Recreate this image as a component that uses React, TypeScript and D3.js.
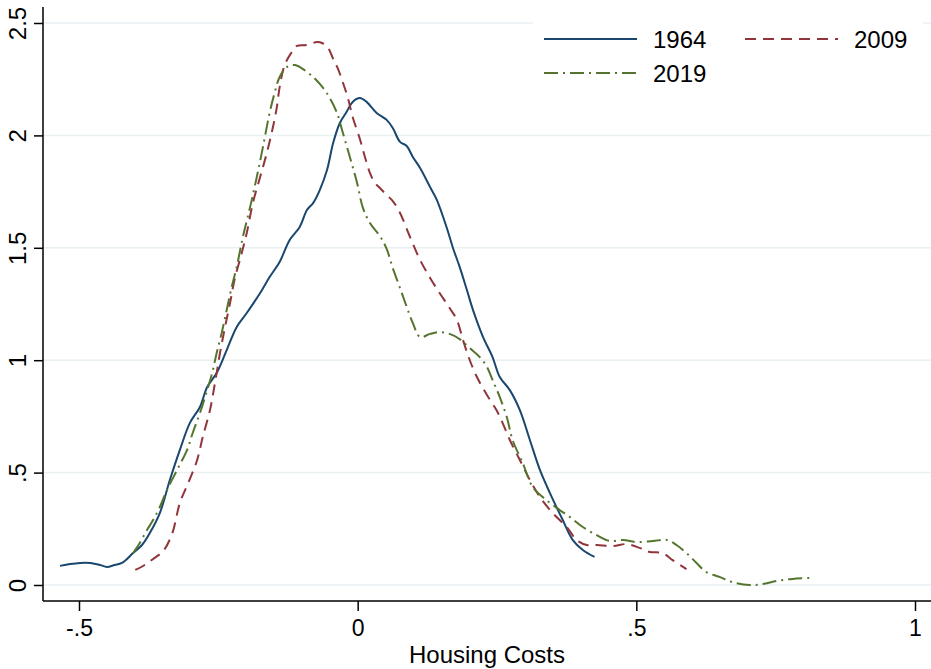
import React from "react";
import * as d3 from "d3";

// kernel density of housing costs
const x1964 = [-0.534, -0.516, -0.498, -0.48, -0.462, -0.45, -0.436, -0.423, -0.403, -0.387, -0.373, -0.355, -0.337, -0.319, -0.301, -0.283, -0.27, -0.253, -0.235, -0.217, -0.199, -0.175, -0.158, -0.14, -0.122, -0.104, -0.091, -0.08, -0.068, -0.055, -0.044, -0.032, -0.02, -0.009, 0.004, 0.016, 0.034, 0.052, 0.063, 0.076, 0.088, 0.099, 0.112, 0.13, 0.142, 0.16, 0.171, 0.183, 0.196, 0.207, 0.225, 0.242, 0.255, 0.273, 0.291, 0.309, 0.327, 0.345, 0.368, 0.386, 0.404, 0.425];
const y1964 = [0.085, 0.093, 0.098, 0.098, 0.089, 0.08, 0.089, 0.098, 0.142, 0.178, 0.231, 0.32, 0.467, 0.601, 0.721, 0.792, 0.881, 0.943, 1.045, 1.148, 1.21, 1.299, 1.37, 1.437, 1.535, 1.593, 1.668, 1.699, 1.757, 1.846, 1.966, 2.055, 2.104, 2.149, 2.166, 2.149, 2.1, 2.069, 2.033, 1.971, 1.953, 1.904, 1.855, 1.77, 1.713, 1.588, 1.499, 1.415, 1.312, 1.223, 1.103, 1.014, 0.925, 0.867, 0.778, 0.645, 0.512, 0.409, 0.289, 0.2, 0.156, 0.125];

const x2009 = [-0.399, -0.382, -0.367, -0.349, -0.333, -0.319, -0.304, -0.288, -0.278, -0.265, -0.256, -0.247, -0.238, -0.229, -0.221, -0.208, -0.199, -0.188, -0.175, -0.163, -0.152, -0.145, -0.14, -0.131, -0.118, -0.109, -0.091, -0.073, -0.064, -0.053, -0.044, -0.036, -0.027, -0.018, -0.009, 0.004, 0.013, 0.022, 0.031, 0.04, 0.052, 0.063, 0.076, 0.094, 0.112, 0.13, 0.147, 0.165, 0.178, 0.189, 0.201, 0.214, 0.232, 0.249, 0.26, 0.273, 0.291, 0.309, 0.327, 0.35, 0.375, 0.393, 0.411, 0.429, 0.458, 0.483, 0.506, 0.524, 0.547, 0.565, 0.59];
const y2009 = [0.067, 0.089, 0.116, 0.151, 0.227, 0.365, 0.454, 0.556, 0.658, 0.778, 0.899, 1.032, 1.148, 1.254, 1.357, 1.477, 1.566, 1.699, 1.815, 1.922, 2.037, 2.126, 2.215, 2.313, 2.371, 2.398, 2.402, 2.415, 2.411, 2.389, 2.34, 2.3, 2.238, 2.171, 2.082, 1.984, 1.904, 1.833, 1.788, 1.766, 1.735, 1.708, 1.655, 1.548, 1.446, 1.366, 1.299, 1.232, 1.179, 1.09, 1.001, 0.925, 0.845, 0.778, 0.721, 0.645, 0.556, 0.467, 0.391, 0.32, 0.258, 0.2, 0.178, 0.178, 0.173, 0.182, 0.165, 0.147, 0.142, 0.111, 0.071];

const x2019 = [-0.403, -0.391, -0.378, -0.367, -0.355, -0.342, -0.324, -0.306, -0.296, -0.283, -0.27, -0.261, -0.253, -0.244, -0.235, -0.226, -0.217, -0.206, -0.193, -0.181, -0.17, -0.158, -0.149, -0.14, -0.127, -0.113, -0.098, -0.08, -0.062, -0.05, -0.037, -0.027, -0.014, -0.001, 0.009, 0.022, 0.04, 0.052, 0.063, 0.076, 0.088, 0.099, 0.112, 0.13, 0.147, 0.165, 0.183, 0.201, 0.219, 0.232, 0.242, 0.255, 0.268, 0.278, 0.296, 0.314, 0.332, 0.357, 0.381, 0.404, 0.429, 0.452, 0.476, 0.501, 0.53, 0.555, 0.572, 0.59, 0.608, 0.625, 0.649, 0.672, 0.703, 0.726, 0.752, 0.78, 0.811];
const y2019 = [0.142, 0.187, 0.245, 0.289, 0.347, 0.423, 0.512, 0.601, 0.676, 0.765, 0.867, 0.943, 1.032, 1.121, 1.223, 1.326, 1.415, 1.548, 1.681, 1.815, 1.948, 2.1, 2.189, 2.26, 2.304, 2.313, 2.295, 2.26, 2.211, 2.166, 2.1, 2.015, 1.904, 1.788, 1.681, 1.61, 1.552, 1.495, 1.41, 1.321, 1.237, 1.165, 1.103, 1.117, 1.125, 1.117, 1.094, 1.054, 1.014, 0.97, 0.912, 0.836, 0.743, 0.645, 0.543, 0.436, 0.391, 0.343, 0.302, 0.258, 0.222, 0.196, 0.2, 0.191, 0.196, 0.2, 0.178, 0.142, 0.098, 0.058, 0.036, 0.013, 0, 0.004, 0.018, 0.027, 0.031];

const xTicks = [-0.5, 0, 0.5, 1];
const xTickLabels = ["-.5", "0", ".5", "1"];
const yTicks = [0, 0.5, 1, 1.5, 2, 2.5];
const yTickLabels = ["0", ".5", "1", "1.5", "2", "2.5"];

const series = [
  { name: "1964", xs: x1964, ys: y1964, color: "#1a476f", dash: null },
  { name: "2009", xs: x2009, ys: y2009, color: "#90353b", dash: "11,7" },
  { name: "2019", xs: x2019, ys: y2019, color: "#55752f", dash: "14,5,2,5" },
];

const W = 931,
  H = 669;
const FONT = "'Liberation Sans', Arial, Helvetica, sans-serif";

const App = () => {
  const ref = React.useRef<SVGSVGElement>(null);

  React.useEffect(() => {
    const svg = d3.select(ref.current);
    svg.selectAll("*").remove();

    const x = d3.scaleLinear().domain([-0.5, 1]).range([79, 915]);
    const y = d3.scaleLinear().domain([0, 2.5]).range([585, 23]);
    const left = 43,
      bottom = 601;

    // gridlines
    svg
      .append("g")
      .selectAll("line")
      .data(yTicks)
      .join("line")
      .attr("x1", left)
      .attr("x2", W)
      .attr("y1", (d) => y(d))
      .attr("y2", (d) => y(d))
      .attr("stroke", "#e8f0f2")
      .attr("stroke-width", 1.5);

    // density lines
    const line = d3
      .line<[number, number]>()
      .x((d) => x(d[0]))
      .y((d) => y(d[1]))
      .curve(d3.curveCatmullRom.alpha(0.5));

    series.forEach((s) => {
      const pts = s.xs.map((v, i) => [v, s.ys[i]] as [number, number]);
      svg
        .append("path")
        .attr("d", line(pts))
        .attr("fill", "none")
        .attr("stroke", s.color)
        .attr("stroke-width", 2)
        .attr("stroke-dasharray", s.dash);
    });

    // y axis
    const yAxis = svg.append("g").attr("transform", `translate(${left},0)`);
    yAxis
      .call(
        d3
          .axisLeft(y)
          .tickValues(yTicks)
          .tickSize(9)
          .tickFormat((d, i) => yTickLabels[i])
      )
      .call((g) => g.select(".domain").remove());
    yAxis.selectAll(".tick line").attr("stroke", "#000").attr("stroke-width", 1.5);
    yAxis
      .selectAll(".tick text")
      .attr("x", null)
      .attr("dy", null)
      .attr("transform", "translate(-17,0) rotate(-90)")
      .attr("text-anchor", "middle")
      .attr("font-family", FONT)
      .attr("font-size", 24)
      .attr("fill", "#000");
    svg
      .append("line")
      .attr("x1", left)
      .attr("x2", left)
      .attr("y1", 7)
      .attr("y2", bottom)
      .attr("stroke", "#000")
      .attr("stroke-width", 1.5);

    // x axis
    const xAxis = svg.append("g").attr("transform", `translate(0,${bottom})`);
    xAxis
      .call(
        d3
          .axisBottom(x)
          .tickValues(xTicks)
          .tickSize(10)
          .tickFormat((d, i) => xTickLabels[i])
      )
      .call((g) => g.select(".domain").remove());
    xAxis.selectAll(".tick line").attr("stroke", "#000").attr("stroke-width", 1.5);
    xAxis
      .selectAll(".tick text")
      .attr("y", 35)
      .attr("dy", null)
      .attr("font-family", FONT)
      .attr("font-size", 23)
      .attr("fill", "#000");
    svg
      .append("line")
      .attr("x1", left)
      .attr("x2", W)
      .attr("y1", bottom)
      .attr("y2", bottom)
      .attr("stroke", "#000")
      .attr("stroke-width", 1.5);

    svg
      .append("text")
      .attr("x", (left + W) / 2)
      .attr("y", 663)
      .attr("text-anchor", "middle")
      .attr("font-family", FONT)
      .attr("font-size", 24)
      .text("Housing Costs");

    // legend
    const lg = svg.append("g");
    lg.append("rect")
      .attr("x", 533)
      .attr("y", 12)
      .attr("width", 390)
      .attr("height", 84)
      .attr("fill", "#fff");
    const slots = [
      [544, 39],
      [745, 39],
      [544, 73],
    ];
    series.forEach((s, i) => {
      const [lx, ly] = slots[i];
      lg.append("line")
        .attr("x1", lx)
        .attr("x2", lx + 93)
        .attr("y1", ly)
        .attr("y2", ly)
        .attr("stroke", s.color)
        .attr("stroke-width", 2)
        .attr("stroke-dasharray", s.dash);
      lg.append("text")
        .attr("x", lx + 109)
        .attr("y", ly + 9)
        .attr("font-family", FONT)
        .attr("font-size", 24)
        .text(s.name);
    });
  });

  return (
    <svg
      ref={ref}
      width={W}
      height={H}
      style={{ position: "absolute", left: 0, top: 0, background: "#fff" }}
    />
  );
};

export default App;
